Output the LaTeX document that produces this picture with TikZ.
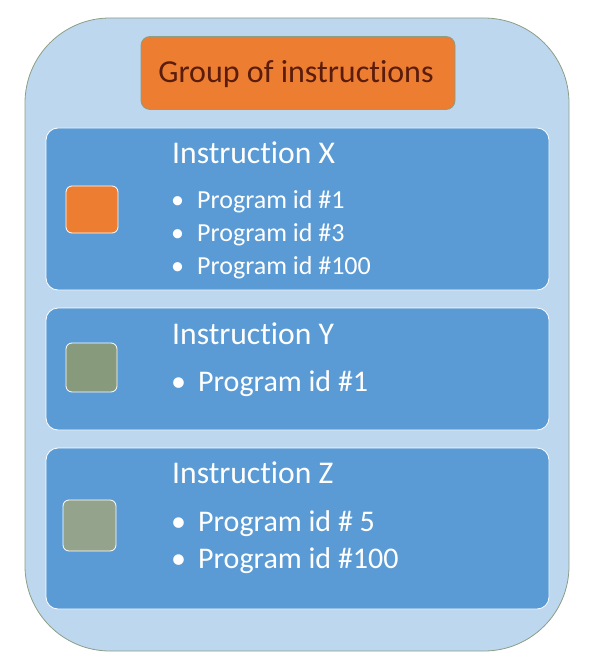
\documentclass[tikz,border=0pt]{standalone}
\usepackage{fontspec}
\setmainfont{Carlito}[Ligatures={NoCommon}]
\definecolor{outerfill}{HTML}{BDD7EE}
\definecolor{outerline}{HTML}{8C9E86}
\definecolor{panelfill}{HTML}{5B9BD5}
\definecolor{orangefill}{HTML}{ED7D31}
\definecolor{headtext}{HTML}{5A1C0C}
\definecolor{greysq}{HTML}{879A7C}
\definecolor{checksq}{HTML}{94A48C}
\begin{document}
\begin{tikzpicture}[x=1pt,y=-1pt,
  outerbox/.style={draw=outerline,line width=0.8pt,fill=outerfill,rounded corners=85pt,inner sep=0pt},
  headbox/.style={draw=outerline,line width=0.8pt,fill=orangefill,rounded corners=9pt,inner sep=0pt},
  headlabel/.style={anchor=base,inner sep=0pt,text=headtext,font=\fontsize{32}{38}\selectfont},
  panel/.style={draw=white,line width=0.8pt,fill=panelfill,rounded corners=12pt,inner sep=0pt,minimum width=503pt},
  swatch/.style={draw=white,line width=0.8pt,rounded corners=6pt,inner sep=0pt},
  title/.style={anchor=base west,inner sep=0pt,text=white,font=\fontsize{31.6}{38}\selectfont},
  itemsmall/.style={anchor=base west,inner sep=0pt,text=white,font=\fontsize{26}{31}\selectfont},
  itembig/.style={anchor=base west,inner sep=0pt,text=white,font=\fontsize{30}{36}\selectfont}]
\useasboundingbox (0,0) rectangle (596,668);
\node[outerbox,minimum width=544pt,minimum height=633pt] (outer) at (297,334.5) {};
\node[headbox,minimum width=314pt,minimum height=73pt] (head) at (298,73) {};
\node[headlabel] (headtxt) at (296,83) {Group of instructions};
% panels
\node[panel,minimum height=162pt] (px) at (297.5,209) {};
\node[panel,minimum height=122pt] (py) at (297.5,369) {};
\node[panel,minimum height=161pt] (pz) at (297.5,528.5) {};
% swatches
\node[swatch,fill=orangefill,minimum width=52pt,minimum height=47pt] (sx) at (92,209.5) {};
\node[swatch,fill=greysq,minimum width=51pt,minimum height=49pt] (sy) at (91.5,367.5) {};
\node[swatch,fill=checksq,minimum width=53pt,minimum height=51pt] (sz) at (89.5,525.5) {};
% texts X
\node[title] (tx) at (172,164) {Instruction X};
\node[itemsmall] (x1) at (171,208) {\makebox[26pt][l]{•}Program id \#1};
\node[itemsmall] (x2) at (171,241) {\makebox[26pt][l]{•}Program id \#3};
\node[itemsmall] (x3) at (171,274) {\makebox[26pt][l]{•}Program id \#100};
% texts Y
\node[title] (ty) at (172,344) {Instruction Y};
\node[itembig] (y1) at (171,391) {\makebox[27pt][l]{•}Program id \#1};
% texts Z
\node[title] (tz) at (172,483) {Instruction Z};
\node[itembig] (z1) at (171,531) {\makebox[27pt][l]{•}Program id \# 5};
\node[itembig] (z2) at (171,568) {\makebox[27pt][l]{•}Program id \#100};
\end{tikzpicture}
\end{document}
